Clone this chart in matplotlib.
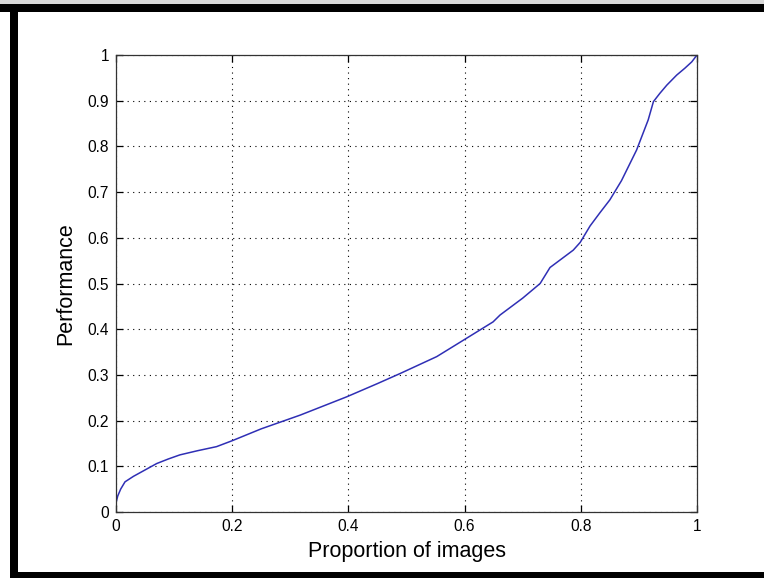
import matplotlib
matplotlib.use("Agg")
import matplotlib.pyplot as plt
from matplotlib.patches import Rectangle

proportion = [0.0, 0.003, 0.008, 0.0155, 0.03, 0.05, 0.07, 0.09, 0.11, 0.14, 0.173, 0.2,
              0.25, 0.317, 0.397, 0.45, 0.489, 0.552, 0.598, 0.649, 0.661, 0.70, 0.730,
              0.747, 0.787, 0.799, 0.816, 0.833, 0.850, 0.87, 0.896, 0.916, 0.925, 0.936,
              0.948, 0.965, 0.979, 0.991, 1.0]
performance = [0.02, 0.035, 0.05, 0.066, 0.078, 0.092, 0.106, 0.116, 0.125, 0.134, 0.143, 0.156,
               0.182, 0.212, 0.252, 0.281, 0.303, 0.340, 0.376, 0.416, 0.431, 0.468, 0.500,
               0.535, 0.573, 0.590, 0.626, 0.655, 0.683, 0.725, 0.792, 0.858, 0.898, 0.916,
               0.934, 0.956, 0.971, 0.985, 1.0]

xticks = [0, 0.2, 0.4, 0.6, 0.8, 1]
xticklabels = ["0", "0.2", "0.4", "0.6", "0.8", "1"]
yticks = [0, 0.1, 0.2, 0.3, 0.4, 0.5, 0.6, 0.7, 0.8, 0.9, 1]
yticklabels = ["0", "0.1", "0.2", "0.3", "0.4", "0.5", "0.6", "0.7", "0.8", "0.9", "1"]

plt.rcParams['font.family'] = ['Liberation Sans', 'DejaVu Sans']

fig = plt.figure(figsize=(7.64, 5.78), dpi=100)
fig.patch.set_facecolor('white')

# light gray strip at very top, then black frame bars (top, left, bottom)
fig.patches.append(Rectangle((0, 1 - 4/578), 1, 4/578, transform=fig.transFigure,
                             facecolor='#d8d8d8', edgecolor='none'))
fig.patches.append(Rectangle((0, 1 - 12/578), 1, 8/578, transform=fig.transFigure,
                             facecolor='black', edgecolor='none'))
fig.patches.append(Rectangle((10/764, 6/578), 8/764, 1 - 12/578 - 6/578 + 0.001,
                             transform=fig.transFigure, facecolor='black', edgecolor='none'))
fig.patches.append(Rectangle((10/764, 0), 1, 6/578, transform=fig.transFigure,
                             facecolor='black', edgecolor='none'))

ax = fig.add_axes([116/764, 1 - 512/578, 581/764, 457/578])
ax.plot(proportion, performance, color='#2f2fb5', linewidth=1.1)

ax.set_xlim(0, 1)
ax.set_ylim(0, 1)
ax.set_xticks(xticks)
ax.set_xticklabels(xticklabels)
ax.set_yticks(yticks)
ax.set_yticklabels(yticklabels)

ax.grid(True, color='black', linestyle=(0, (1, 4)), linewidth=0.8)
ax.tick_params(direction='in', length=5, width=0.9, top=True, right=True,
               labelsize=11.2, pad=5, colors='black')
for s in ax.spines.values():
    s.set_linewidth(0.9)
    s.set_color('#333333')

ax.set_xlabel("Proportion of images", fontsize=15.5, labelpad=5)
ax.set_ylabel("Performance", fontsize=15.5, labelpad=8)

fig.savefig("out.png", dpi=100)
